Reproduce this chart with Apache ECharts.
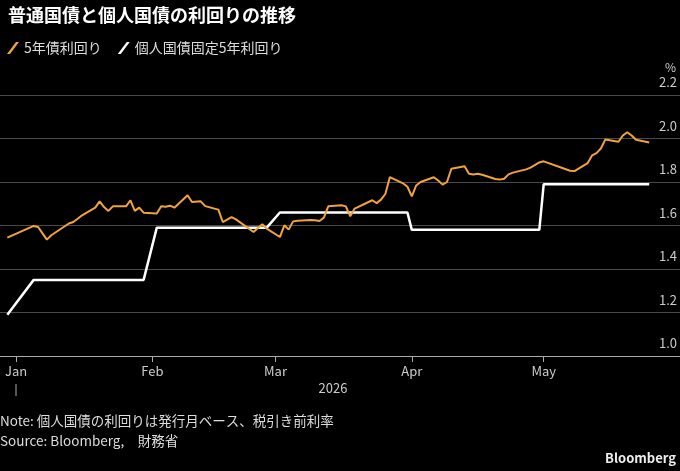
<!DOCTYPE html>
<html>
<head>
<meta charset="utf-8">
<script src="https://cdn.jsdelivr.net/npm/echarts@6/dist/echarts.min.js"></script>
<style>
  html, body { margin: 0; padding: 0; background: #000; }
  #chart { width: 680px; height: 471px; }
</style>
</head>
<body>
<div id="chart"></div>
<script>
// 5年債利回り (営業日ごと)
var yieldDates = ['2025-12-30','2026-01-05','2026-01-06','2026-01-07','2026-01-08','2026-01-09','2026-01-13','2026-01-14','2026-01-15','2026-01-16',
  '2026-01-19','2026-01-20','2026-01-21','2026-01-22','2026-01-23','2026-01-26','2026-01-27','2026-01-28','2026-01-29','2026-01-30',
  '2026-02-02','2026-02-03','2026-02-04','2026-02-05','2026-02-06','2026-02-09','2026-02-10','2026-02-12','2026-02-13','2026-02-16',
  '2026-02-17','2026-02-18','2026-02-19','2026-02-20','2026-02-24','2026-02-25','2026-02-26','2026-02-27','2026-03-02','2026-03-03',
  '2026-03-04','2026-03-05','2026-03-06','2026-03-09','2026-03-10','2026-03-11','2026-03-12','2026-03-13','2026-03-16','2026-03-17',
  '2026-03-18','2026-03-19','2026-03-23','2026-03-24','2026-03-25','2026-03-26','2026-03-27','2026-03-30','2026-03-31','2026-04-01',
  '2026-04-02','2026-04-03','2026-04-06','2026-04-07','2026-04-08','2026-04-09','2026-04-10','2026-04-13','2026-04-14','2026-04-15',
  '2026-04-16','2026-04-17','2026-04-20','2026-04-21','2026-04-22','2026-04-23','2026-04-24','2026-04-27','2026-04-28','2026-04-30',
  '2026-05-01','2026-05-07','2026-05-08','2026-05-11','2026-05-12','2026-05-13','2026-05-14','2026-05-15','2026-05-18','2026-05-19',
  '2026-05-20','2026-05-21','2026-05-22','2026-05-25'];
var yieldValues = [1.544,1.598,1.593,1.564,1.535,1.555,1.609,1.616,1.631,1.647,
  1.682,1.711,1.685,1.667,1.688,1.688,1.716,1.667,1.682,1.659,
  1.655,1.689,1.686,1.691,1.682,1.739,1.708,1.711,1.689,1.673,
  1.616,1.627,1.639,1.628,1.570,1.588,1.606,1.586,1.547,1.601,
  1.581,1.619,1.622,1.625,1.624,1.621,1.636,1.688,1.693,1.688,
  1.642,1.678,1.716,1.703,1.719,1.746,1.822,1.794,1.778,1.734,
  1.784,1.800,1.822,1.807,1.788,1.800,1.861,1.872,1.838,1.835,
  1.838,1.833,1.814,1.811,1.815,1.835,1.843,1.858,1.866,1.890,
  1.895,1.852,1.850,1.887,1.922,1.933,1.954,1.995,1.985,2.014,
  2.029,2.014,1.994,1.982];

// 個人国債固定5年利回り (発行月ベース)
var retailDates = ['2025-12-30','2026-01-05','2026-01-30','2026-02-02','2026-02-27','2026-03-02','2026-03-31','2026-04-01','2026-04-30','2026-05-01','2026-05-25'];
var retailValues = [1.19, 1.35, 1.35, 1.59, 1.59, 1.66, 1.66, 1.58, 1.58, 1.79, 1.79];

var monthStarts = ['2026-01-01','2026-02-01','2026-03-01','2026-04-01','2026-05-01'];
var monthLabels = ['Jan','Feb','Mar','Apr','May'];
var seriesNames = ['5年債利回り','個人国債固定5年利回り'];

var font = '"Noto Sans CJK JP", "Noto Sans", sans-serif';

function toTime(s) {
  var p = s.split('-');
  return new Date(+p[0], +p[1] - 1, +p[2]).getTime();
}
var monthTimes = monthStarts.map(toTime);

var myChart = echarts.init(document.getElementById('chart'));

var slash = 'path://M0,12 L3,12 L12,0 L9,0 Z';

var option = {
  backgroundColor: '#000',
  animation: false,
  textStyle: { fontFamily: font },
  title: {
    text: '普通国債と個人国債の利回りの推移',
    left: 3,
    top: 1,
    textStyle: { color: '#fff', fontSize: 18, fontWeight: 'bold', fontFamily: font }
  },
  legend: {
    left: 2,
    top: 36,
    itemWidth: 12,
    itemHeight: 12,
    itemGap: 16,
    textStyle: { color: '#ddd', fontSize: 14, fontFamily: font },
    data: [
      { name: seriesNames[0], icon: slash },
      { name: seriesNames[1], icon: slash }
    ]
  },
  grid: { left: 0, right: 0, top: 95, bottom: 115 },
  xAxis: {
    type: 'value',
    min: toTime('2025-12-28') + 8 * 3600 * 1000,
    max: toTime('2026-06-01'),
    axisLine: { lineStyle: { color: '#aaa', width: 1 } },
    axisTick: { show: true, customValues: monthTimes, length: 6, lineStyle: { color: '#aaa' } },
    axisLabel: {
      customValues: monthTimes,
      color: '#ccc',
      fontSize: 13,
      margin: 9,
      formatter: function (v) { return monthLabels[new Date(v).getMonth()]; }
    },
    splitLine: { show: false }
  },
  yAxis: {
    type: 'value',
    position: 'right',
    min: 1.0,
    max: 2.2,
    interval: 0.2,
    name: '%',
    nameLocation: 'end',
    nameGap: 22,
    nameTextStyle: { color: '#ccc', fontSize: 12, align: 'right', padding: [0, 4, 0, 0] },
    axisLine: { show: false },
    axisTick: { show: false },
    splitLine: { lineStyle: { color: '#4a4a4a', width: 1 } },
    axisLabel: {
      inside: true,
      color: '#ccc',
      fontSize: 13,
      margin: 3,
      verticalAlign: 'bottom',
      padding: [0, 0, 6, 0],
      formatter: function (v) { return v.toFixed(1); }
    }
  },
  graphic: [
    { type: 'line', shape: { x1: 16, y1: 384, x2: 16, y2: 396 }, style: { stroke: '#aaa', lineWidth: 1 } },
    { type: 'text', x: 333, y: 382, style: { text: '2026', fill: '#ccc', font: '13px ' + font, textAlign: 'center' } },
    { type: 'text', x: 0, y: 414, style: { text: 'Note: 個人国債の利回りは発行月ベース、税引き前利率', fill: '#ddd', font: '13.5px ' + font } },
    { type: 'text', x: 0, y: 434, style: { text: 'Source: Bloomberg,\u3000財務省', fill: '#ddd', font: '13.5px ' + font } },
    { type: 'text', right: 4, top: 452, style: { text: 'Bloomberg', fill: '#eee', font: 'bold 13px ' + font } }
  ],
  series: [
    {
      name: seriesNames[0],
      type: 'line',
      showSymbol: false,
      z: 3,
      color: '#f2a33a',
      lineStyle: { color: '#f2a33a', width: 2 },
      data: yieldDates.map(function (d, i) { return [toTime(d), yieldValues[i]]; })
    },
    {
      name: seriesNames[1],
      type: 'line',
      showSymbol: false,
      z: 2,
      color: '#ffffff',
      lineStyle: { color: '#ffffff', width: 2.5 },
      data: retailDates.map(function (d, i) { return [toTime(d), retailValues[i]]; })
    }
  ]
};

myChart.setOption(option);
</script>
</body>
</html>
